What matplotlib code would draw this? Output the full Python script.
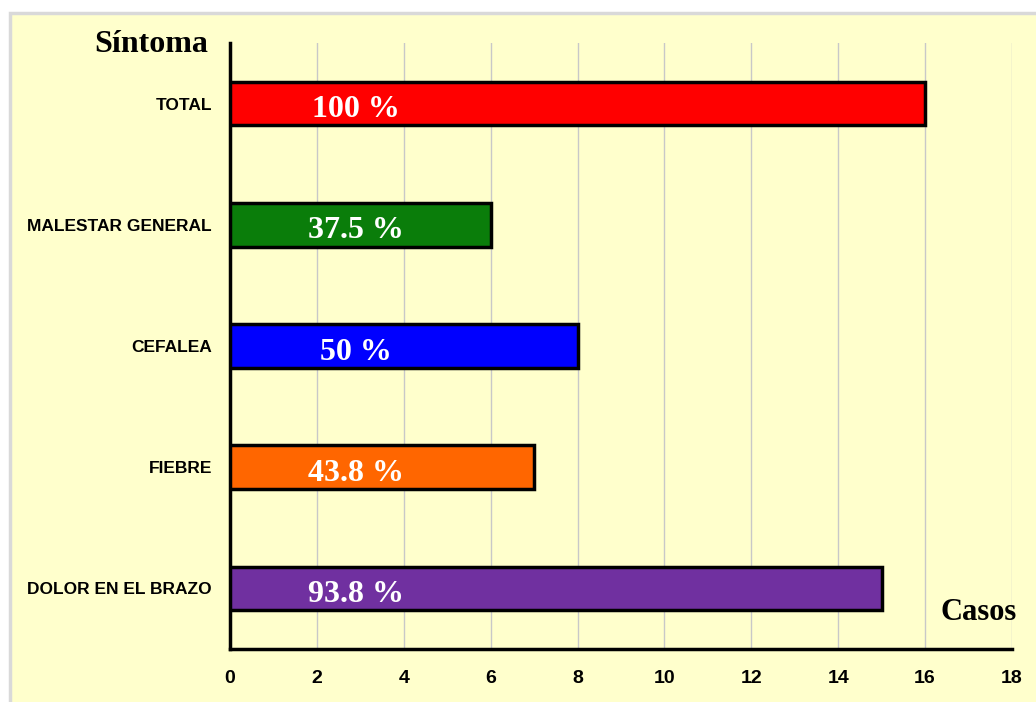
import matplotlib.pyplot as plt
from matplotlib import font_manager
from matplotlib.patches import Rectangle

# data
sintomas = ['DOLOR EN EL BRAZO', 'FIEBRE', 'CEFALEA', 'MALESTAR GENERAL', 'TOTAL']
casos = [15, 7, 8, 6, 16]
porcentajes = ['93.8 %', '43.8 %', '50 %', '37.5 %', '100 %']
colores = ['#7030A0', '#FF6600', '#0000FF', '#0A7D0A', '#FF0000']
xticks = list(range(0, 19, 2))

installed = {f.name for f in font_manager.fontManager.ttflist}
if 'Liberation Sans Narrow' in installed:
    narrow, ysize, xsize = 'Liberation Sans Narrow', 14, 15
else:
    narrow, ysize, xsize = 'Liberation Sans', 12.5, 14
serif = ['Liberation Serif', 'DejaVu Serif']

fig = plt.figure(figsize=(10.36, 7.02), dpi=100)
fig.patch.set_facecolor('white')
fig.patches.append(Rectangle((10 / 1036, -0.01), 1.02, 1 - 13 / 702 + 0.01,
                             transform=fig.transFigure, facecolor='#FFFFCC',
                             edgecolor='#D9D9D9', linewidth=2.5, zorder=-5))

ax = fig.add_axes([230 / 1036, 53 / 702, 782 / 1036, 606 / 702])
ax.set_facecolor('none')

ypos = range(len(sintomas))
ax.barh(ypos, casos, height=0.36, color=colores, edgecolor='black',
        linewidth=2.5, zorder=3)
for y, p in zip(ypos, porcentajes):
    ax.text(2.9, y - 0.05, p, ha='center', va='center', color='white',
            fontsize=23, fontweight='bold', family=serif, zorder=4)

ax.set_xlim(0, 18)
ax.set_ylim(-0.5, 4.5)
ax.set_xticks(xticks)
ax.set_yticks(list(ypos))
ax.set_yticklabels(sintomas)
ax.xaxis.grid(True, color='#C8C8C8', linewidth=1, zorder=0)
ax.set_axisbelow(True)

for s in ['top', 'right']:
    ax.spines[s].set_visible(False)
for s in ['left', 'bottom']:
    ax.spines[s].set_linewidth(2.5)
    ax.spines[s].set_color('black')
ax.tick_params(length=0)
ax.tick_params(axis='x', pad=15)
ax.tick_params(axis='y', pad=13)
for lab in ax.get_yticklabels():
    lab.set_family(narrow)
    lab.set_fontweight('bold')
    lab.set_fontsize(ysize)
for lab in ax.get_xticklabels():
    lab.set_family(narrow)
    lab.set_fontweight('bold')
    lab.set_fontsize(xsize)

fig.text(208 / 1036, 1 - 45 / 702, 'Síntoma', ha='right', va='center',
         fontsize=23, fontweight='bold', family=serif)
fig.text(1017 / 1036, 1 - 612 / 702, 'Casos', ha='right', va='center',
         fontsize=22, fontweight='bold', family=serif)

fig.savefig('out.png', dpi=100)
